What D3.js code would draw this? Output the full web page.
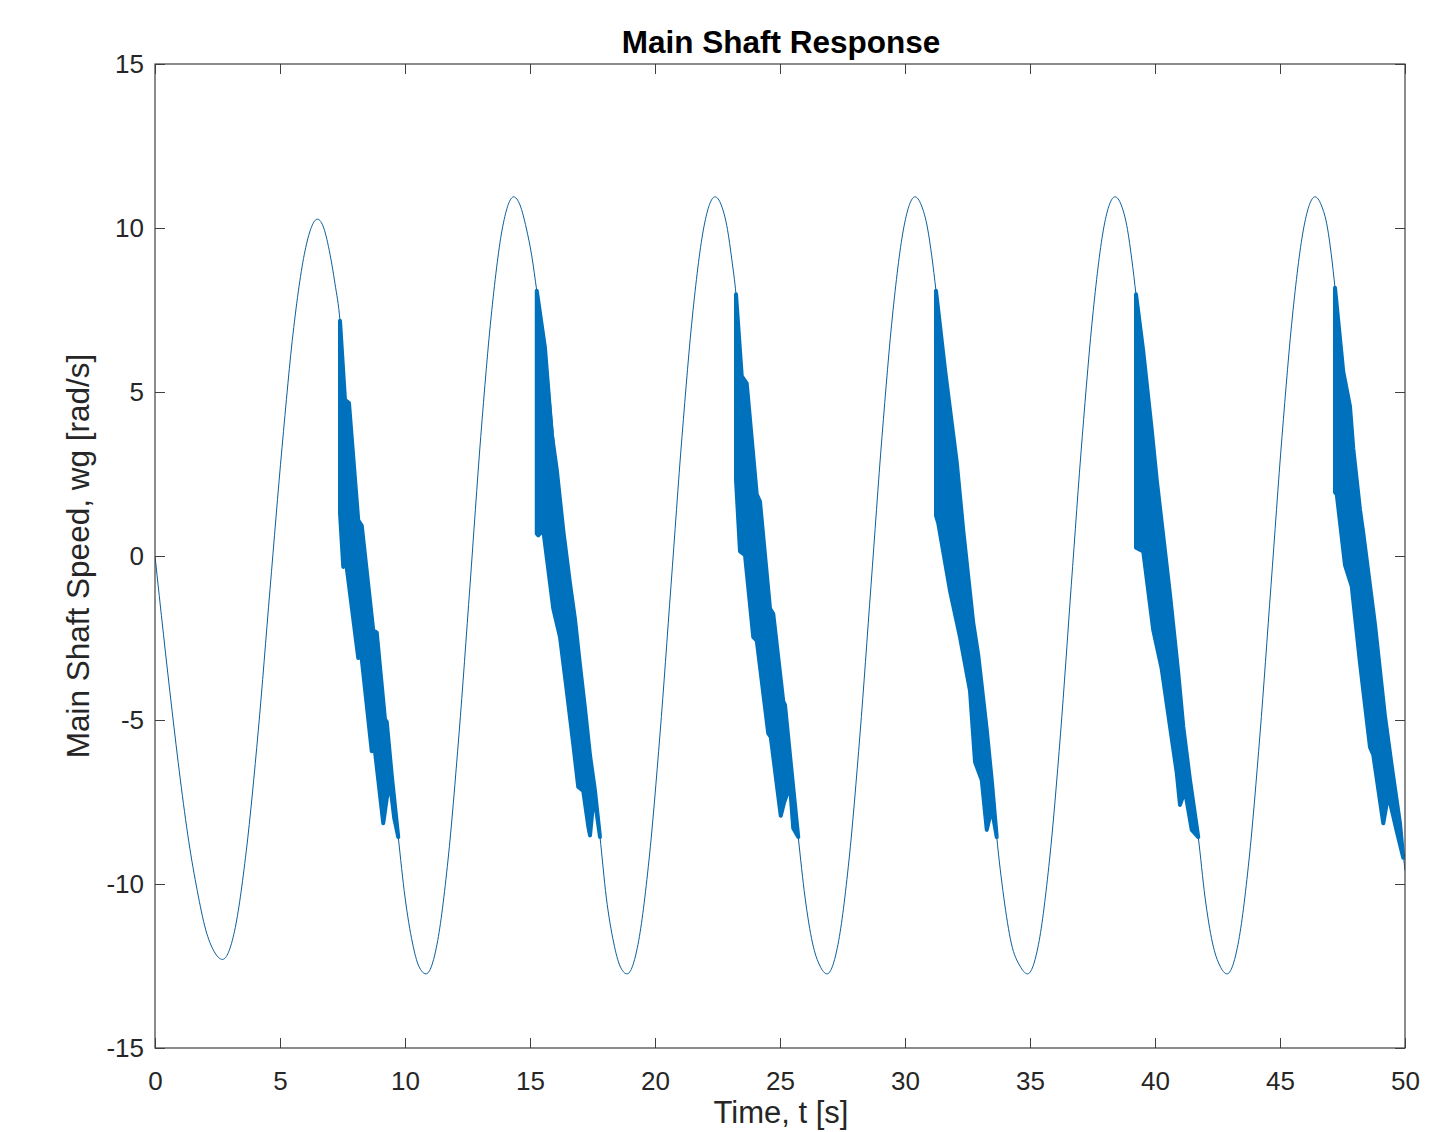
<!DOCTYPE html>
<html>
<head>
<meta charset="utf-8">
<script src="https://cdn.jsdelivr.net/npm/d3@7"></script>
<style>
  body { margin: 0; background: #fff; }
  svg { display: block; font-family: "Liberation Sans", Arial, Helvetica, sans-serif; }
  .axis text { font-size: 26px; fill: #262626; }
  .axis line { stroke: #404040; stroke-width: 1; }
</style>
</head>
<body>
<svg width="1447" height="1132"></svg>
<script>
// tick labels
var xTicks = [0, 5, 10, 15, 20, 25, 30, 35, 40, 45, 50];
var yTicks = [-15, -10, -5, 0, 5, 10, 15];

// main shaft speed (thin line)
var timeS = [
    0, 0.34, 0.68, 1.01, 1.35, 1.69, 2.03, 2.36, 2.7,
    3.18, 3.65, 4.13, 4.6, 5.08, 5.55, 6.03, 6.5,
    6.75, 7.0, 7.2, 7.4, 7.6, 8.13, 8.73, 9.2, 9.47, 9.73,
    10.0, 10.3, 10.55, 10.84,
    11.28, 11.72, 12.16, 12.6, 13.03, 13.47, 13.91, 14.35,
    14.6, 14.85, 15.07, 15.27, 15.6, 16.07, 16.6, 17.0, 17.4, 17.8,
    18.05, 18.35, 18.6, 18.88,
    19.32, 19.76, 20.2, 20.64, 21.08, 21.52, 21.96, 22.4,
    22.65, 22.9, 23.07, 23.24, 23.47, 24.07, 24.6, 25.13, 25.47, 25.73,
    26.0, 26.3, 26.6, 26.88,
    27.32, 27.76, 28.2, 28.64, 29.08, 29.52, 29.96, 30.4,
    30.65, 30.9, 31.07, 31.24, 31.6, 32.07, 32.73, 33.27, 33.47, 33.67,
    33.95, 34.25, 34.6, 34.9,
    35.34, 35.78, 36.22, 36.65, 37.09, 37.53, 37.96, 38.4,
    38.65, 38.9, 39.07, 39.24, 39.53, 40.07, 40.6, 41.13, 41.4, 41.73,
    42.0, 42.3, 42.6, 42.88,
    43.32, 43.76, 44.2, 44.64, 45.08, 45.52, 45.96, 46.4,
    46.65, 46.9, 47.05, 47.2, 47.53, 48.2, 48.8, 49.2, 49.47, 49.8, 50
];
var speed = [
    0, -2.4, -4.7, -6.8, -8.7, -10.2, -11.4, -12.05, -12.3,
    -11.44, -9.0, -5.33, -1.02, 3.3, 6.97, 9.41, 10.27,
    10.0, 9.2, 8.3, 7.17, 4.76, 1.09, -2.27, -4.98, -6.68, -8.57,
    -10.4, -11.8, -12.5, -12.74,
    -11.84, -9.27, -5.43, -0.9, 3.64, 7.48, 10.05, 10.95,
    10.7, 10.0, 9.15, 8.09, 6.34, 2.64, -0.84, -3.33, -6.07, -8.57,
    -10.4, -11.8, -12.5, -12.74,
    -11.84, -9.27, -5.43, -0.9, 3.64, 7.48, 10.05, 10.95,
    10.7, 9.95, 9.05, 7.98, 5.48, 1.88, -1.6, -4.43, -6.61, -8.57,
    -10.4, -11.8, -12.5, -12.74,
    -11.84, -9.27, -5.43, -0.9, 3.64, 7.48, 10.05, 10.95,
    10.7, 10.0, 9.15, 8.09, 5.69, 2.86, -2.04, -5.3, -6.83, -8.57,
    -10.4, -11.8, -12.5, -12.74,
    -11.84, -9.27, -5.43, -0.9, 3.64, 7.48, 10.05, 10.95,
    10.7, 9.95, 9.05, 7.98, 6.24, 2.32, -1.17, -5.2, -6.83, -8.57,
    -10.4, -11.8, -12.5, -12.74,
    -11.84, -9.27, -5.43, -0.9, 3.64, 7.48, 10.05, 10.95,
    10.7, 10.0, 9.2, 8.18, 5.62, 1.41, -2.09, -4.89, -6.4, -8.15, -9.6
];

// oscillation bursts: upper and lower envelope [t, w]
var burst1Top = [[7.40, 7.17], [7.60, 4.76], [7.76, 4.66], [8.13, 1.09], [8.27, 0.93], [8.73, -2.27], [8.87, -2.33], [9.20, -4.98], [9.27, -5.05], [9.47, -6.68], [9.73, -8.57]];
var burst1Bottom = [[7.40, 1.30], [7.53, -0.33], [7.63, -0.12], [8.13, -3.11], [8.24, -2.93], [8.67, -5.95], [8.77, -5.76], [9.13, -8.15], [9.27, -7.39], [9.40, -6.93], [9.57, -8.0], [9.73, -8.57]];

var burst2Top = [[15.27, 8.09], [15.60, 6.34], [15.87, 3.73], [16.07, 2.64], [16.33, 0.79], [16.60, -0.84], [16.80, -1.93], [17.00, -3.33], [17.20, -4.65], [17.40, -6.07], [17.60, -7.16], [17.80, -8.57]];
var burst2Bottom = [[15.27, 0.68], [15.33, 0.63], [15.53, 0.79], [15.93, -1.60], [16.20, -2.47], [16.47, -4.11], [16.73, -5.74], [16.93, -7.04], [17.13, -7.16], [17.33, -8.24], [17.40, -8.52], [17.56, -7.26], [17.80, -8.57]];

var burst3Top = [[23.24, 7.98], [23.47, 5.48], [23.67, 5.26], [24.07, 1.88], [24.20, 1.66], [24.60, -1.60], [24.73, -1.76], [25.13, -4.43], [25.20, -4.54], [25.47, -6.61], [25.73, -8.57]];
var burst3Bottom = [[23.24, 2.32], [23.40, 0.14], [23.60, 0.03], [23.93, -2.47], [24.07, -2.58], [24.53, -5.41], [24.63, -5.52], [25.03, -7.92], [25.17, -7.5], [25.40, -7.0], [25.53, -8.3], [25.73, -8.57]];

var burst4Top = [[31.24, 8.09], [31.60, 5.69], [31.87, 4.06], [32.07, 2.86], [32.33, 0.79], [32.73, -2.04], [32.93, -3.02], [33.27, -5.30], [33.47, -6.83], [33.67, -8.57]];
var burst4Bottom = [[31.24, 1.23], [31.33, 1.0], [31.80, -1.06], [32.20, -2.47], [32.60, -4.11], [32.80, -6.28], [33.07, -6.83], [33.27, -8.35], [33.47, -7.70], [33.67, -8.57]];

var burst5Top = [[39.24, 7.98], [39.53, 6.24], [39.87, 3.84], [40.07, 2.32], [40.27, 1.01], [40.60, -1.17], [40.93, -3.56], [41.13, -5.20], [41.40, -6.83], [41.73, -8.57]];
var burst5Bottom = [[39.24, 0.25], [39.53, 0.14], [39.93, -2.26], [40.27, -3.45], [40.60, -5.20], [40.87, -6.61], [41.00, -7.59], [41.20, -7.16], [41.47, -8.35], [41.73, -8.57]];

var burst6Top = [[47.20, 8.18], [47.53, 5.62], [47.80, 4.56], [47.93, 3.28], [48.20, 1.41], [48.33, 0.71], [48.80, -2.09], [49.20, -4.89], [49.47, -6.40], [49.80, -8.15], [49.93, -9.2]];
var burst6Bottom = [[47.20, 1.94], [47.27, 1.88], [47.60, -0.28], [47.87, -0.93], [48.20, -3.26], [48.60, -5.83], [48.73, -6.06], [49.13, -8.15], [49.33, -7.28], [49.67, -8.39], [49.93, -9.2]];

var bursts = [
    [burst1Top, burst1Bottom], [burst2Top, burst2Bottom], [burst3Top, burst3Bottom],
    [burst4Top, burst4Bottom], [burst5Top, burst5Bottom], [burst6Top, burst6Bottom]
];

var svg = d3.select("svg"),
    margin = { top: 64, right: 42, bottom: 84, left: 155 },
    width = +svg.attr("width") - margin.left - margin.right,
    height = +svg.attr("height") - margin.top - margin.bottom;

var x = d3.scaleLinear().domain([0, 50]).range([0, width]),
    y = d3.scaleLinear().domain([-15, 15]).range([height, 0]);

var g = svg.append("g")
    .attr("transform", "translate(" + margin.left + "," + margin.top + ")");

g.append("clipPath").attr("id", "clip")
    .append("rect").attr("width", width).attr("height", height);

var plot = g.append("g").attr("clip-path", "url(#clip)");

// thin line
var line = d3.line()
    .x(function (d) { return x(d[0]); })
    .y(function (d) { return y(d[1]); })
    .curve(d3.curveMonotoneX);

plot.append("path")
    .datum(d3.zip(timeS, speed))
    .attr("fill", "none")
    .attr("stroke", "#0a5f9c")
    .attr("stroke-width", 1)
    .attr("d", line);

// filled bursts
var band = d3.line()
    .x(function (d) { return x(d[0]); })
    .y(function (d) { return y(d[1]); })
    .curve(d3.curveLinearClosed);

plot.selectAll(".burst")
    .data(bursts)
    .enter().append("path")
    .attr("class", "burst")
    .attr("fill", "#0072BD")
    .attr("stroke", "#0072BD")
    .attr("stroke-width", 4)
    .attr("stroke-linejoin", "round")
    .attr("d", function (d) {
        return band(d[0].concat(d[1].slice().reverse()));
    });

// plain hyphen minus like the original
var fmt = function (d) { return String(d); };

// axes, ticks pointing inward on all sides
g.append("g")
    .attr("class", "axis")
    .attr("transform", "translate(0," + height + ")")
    .call(d3.axisBottom(x).tickValues(xTicks).tickFormat(fmt).tickSizeInner(-10).tickSizeOuter(0).tickPadding(24))
    .call(function (a) { a.select(".domain").remove(); });

g.append("g")
    .attr("class", "axis")
    .call(d3.axisLeft(y).tickValues(yTicks).tickFormat(fmt).tickSizeInner(-10).tickSizeOuter(0).tickPadding(11))
    .call(function (a) { a.select(".domain").remove(); });

g.append("g")
    .attr("class", "axis")
    .call(d3.axisTop(x).tickValues(xTicks).tickSizeInner(-10).tickSizeOuter(0).tickFormat(""))
    .call(function (a) { a.select(".domain").remove(); });

g.append("g")
    .attr("class", "axis")
    .attr("transform", "translate(" + width + ",0)")
    .call(d3.axisRight(y).tickValues(yTicks).tickSizeInner(-10).tickSizeOuter(0).tickFormat(""))
    .call(function (a) { a.select(".domain").remove(); });

g.append("rect")
    .attr("width", width)
    .attr("height", height)
    .attr("fill", "none")
    .attr("stroke", "#404040")
    .attr("stroke-width", 1.2);

// titles
g.append("text")
    .attr("x", width / 2 + 1)
    .attr("y", -11)
    .attr("text-anchor", "middle")
    .style("font-size", "31.5px")
    .style("font-weight", "bold")
    .style("fill", "#000")
    .text("Main Shaft Response");

g.append("text")
    .attr("x", width / 2 + 1)
    .attr("y", height + 75)
    .attr("text-anchor", "middle")
    .style("font-size", "31px")
    .style("fill", "#262626")
    .text("Time, t [s]");

svg.append("text")
    .attr("transform", "translate(89," + (margin.top + height / 2) + ") rotate(-90)")
    .attr("text-anchor", "middle")
    .style("font-size", "31.5px")
    .style("fill", "#262626")
    .text("Main Shaft Speed, wg [rad/s]");
</script>
</body>
</html>
